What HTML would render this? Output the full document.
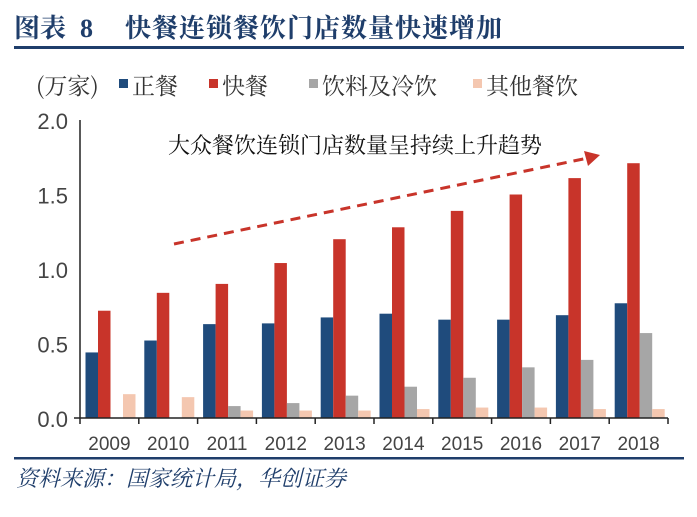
<!DOCTYPE html>
<html><head><meta charset="utf-8"><style>
body{margin:0;background:#fff;width:697px;height:512px;overflow:hidden;font-family:"Liberation Sans","Noto Sans CJK SC",sans-serif}
</style></head><body>
<svg width="697" height="512">
<g font-family="'Noto Serif CJK SC','Noto Sans CJK SC',serif" font-weight="bold" font-size="26" fill="#1f3e6b">
<text x="14" y="37">图表</text>
<text x="80" y="37" font-family="'Liberation Serif',serif">8</text>
<text x="125" y="37" letter-spacing="1">快餐连锁餐饮门店数量快速增加</text>
</g>
<rect x="14" y="46" width="670" height="3" fill="#1f3e6b"/>
<g font-family="'Noto Serif CJK SC','Noto Sans CJK SC',serif" font-size="23" fill="#333">
<text x="36" y="94">(万家)</text>
<rect x="119" y="79" width="9" height="9" fill="#1f4b7c"/><text x="132" y="94">正餐</text>
<rect x="209" y="79" width="9" height="9" fill="#c8342a"/><text x="222" y="94">快餐</text>
<rect x="309" y="79" width="9" height="9" fill="#a6a6a6"/><text x="322" y="94">饮料及冷饮</text>
<rect x="473" y="79" width="9" height="9" fill="#f4c7b0"/><text x="486" y="94">其他餐饮</text>
</g>
<g id="plot"></g>
<text x="168" y="153" font-family="'Noto Serif CJK SC','Noto Sans CJK SC',serif" font-size="22" fill="#111">大众餐饮连锁门店数量呈持续上升趋势</text>
<line x1="174" y1="244" x2="588" y2="158" stroke="#c8342a" stroke-width="3" stroke-dasharray="10,7"/>
<polygon points="600,155 584,151 588,166" fill="#c8342a"/>
<rect x="14" y="457" width="670" height="2.5" fill="#1f3e6b"/>
<text x="16" y="486" font-family="'Noto Serif CJK SC','Noto Sans CJK SC',serif" font-style="italic" font-size="22" fill="#1f3e6b">资料来源：国家统计局，华创证券</text>
</svg>
<script>
const categories=["2009","2010","2011","2012","2013","2014","2015","2016","2017","2018"];
const zhengcan=[0.44,0.52,0.63,0.635,0.675,0.70,0.66,0.66,0.69,0.77];
const kuaican=[0.72,0.84,0.90,1.04,1.20,1.28,1.39,1.50,1.61,1.71];
const drinks=[0,0,0.08,0.10,0.15,0.21,0.27,0.34,0.39,0.57];
const other=[0.16,0.14,0.05,0.05,0.05,0.06,0.07,0.07,0.06,0.06];
const yTicks=["0.0","0.5","1.0","1.5","2.0"];
const NS="http://www.w3.org/2000/svg";
const g=document.getElementById('plot');
const X0=80,X1=668,Y0=418,YT=120,YMAX=2.0;
const bw=(X1-X0)/categories.length;
const y=v=>Y0-v/YMAX*(Y0-YT);
function mk(t,a){const e=document.createElementNS(NS,t);for(const k in a)e.setAttribute(k,a[k]);g.appendChild(e);return e;}
yTicks.forEach((t,i)=>{const v=parseFloat(t);
const e=mk('text',{x:68,y:y(v)+9,'text-anchor':'end','font-size':22,fill:'#444'});e.textContent=t;

});
const series=[[zhengcan,'#1f4b7c','zhengcan'],[kuaican,'#c8342a','kuaican'],[drinks,'#a6a6a6','drinks'],[other,'#f4c7b0','other']];
const w=12.5;
categories.forEach((c,i)=>{const gx=X0+i*bw;
series.forEach((s,j)=>{const v=s[0][i];const r=mk('rect',{x:gx+5.5+j*w,y:y(v),width:w,height:Y0-y(v),fill:s[1]});

});
const t=mk('text',{x:gx+bw/2,y:450,'text-anchor':'middle','font-size':19,fill:'#444'});t.textContent=c;


});
for(let i=0;i<=categories.length;i++){const l=mk('line',{x1:X0+i*bw,x2:X0+i*bw,y1:Y0,y2:Y0+6,stroke:'#222','stroke-width':1.5});

}
const ax=mk('line',{x1:X0-6,x2:X1,y1:Y0,y2:Y0,stroke:'#222','stroke-width':1.5});


const ay=mk('line',{x1:X0,x2:X0,y1:YT,y2:Y0,stroke:'#222','stroke-width':1.5});


</script>
</body></html>
